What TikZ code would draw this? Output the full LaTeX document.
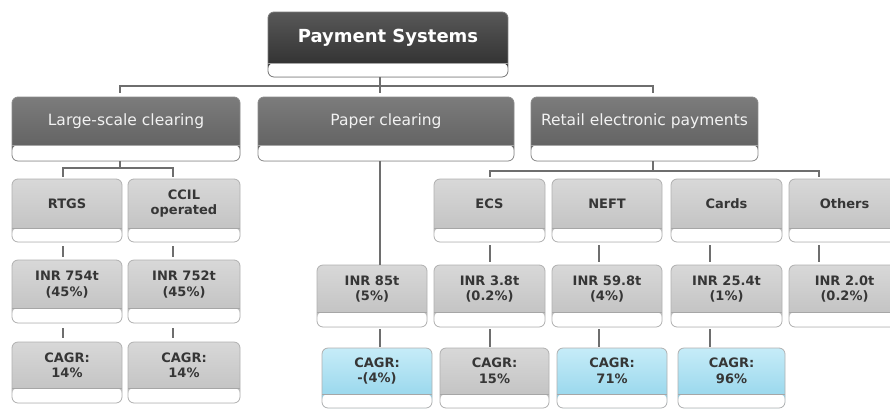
\documentclass[tikz,border=0pt]{standalone}
\usepackage{fontspec}
\setmainfont{DejaVu Sans}
\definecolor{dkA}{HTML}{585858}
\definecolor{dkB}{HTML}{2A2A2A}
\definecolor{dkE}{HTML}{7A7A7A}
\definecolor{mdA}{HTML}{7C7C7C}
\definecolor{mdB}{HTML}{5C5C5C}
\definecolor{mdE}{HTML}{8A8A8A}
\definecolor{lgA}{HTML}{D8D8D8}
\definecolor{lgB}{HTML}{BEBEBE}
\definecolor{lgE}{HTML}{B0B0B0}
\definecolor{blA}{HTML}{C6ECF8}
\definecolor{blB}{HTML}{8FD3EA}
\definecolor{connc}{HTML}{6E6E6E}
\definecolor{txtd}{HTML}{363636}
\newcommand\pbx[8]{%
  \node[#6, minimum width={(#4-#2)*1pt}, minimum height={(#5-#3)*1pt},
        label={[#7]center:{#8}}] (#1) at ({(#2+#4)/2},{(#3+#5)/2}) {};}
\begin{document}
\begin{tikzpicture}[x=1pt,y=-1pt,
  boxstrip/.initial=14pt,
  box/.style={rectangle, rounded corners=6pt, line width=0.8pt, inner sep=0pt,
    path picture={
      \fill[white] (path picture bounding box.south west) rectangle
        ([yshift=\pgfkeysvalueof{/tikz/boxstrip}]path picture bounding box.south east);
      \draw[black!35, line width=0.6pt]
        ([yshift=\pgfkeysvalueof{/tikz/boxstrip}]path picture bounding box.south west) --
        ([yshift=\pgfkeysvalueof{/tikz/boxstrip}]path picture bounding box.south east);}},
  darkbox/.style={box, top color=dkA, bottom color=dkB, draw=dkE, boxstrip=14pt},
  midbox/.style={box, top color=mdA, bottom color=mdB, draw=mdE, boxstrip=16pt},
  graybox/.style={box, top color=lgA, bottom color=lgB, draw=lgE},
  bluebox/.style={box, top color=blA, bottom color=blB, draw=lgE},
  ttop/.style={text=white, font=\bfseries\fontsize{18}{20}\selectfont, yshift=7pt},
  tmid/.style={text=white!95!black, font=\fontsize{15.5}{18}\selectfont, yshift=8pt},
  tlow/.style={text=txtd, align=center, font=\bfseries\fontsize{13}{15.5}\selectfont, yshift=7pt},
  conn/.style={draw=connc, line width=1.5pt}
]
\useasboundingbox (0,0) rectangle (890,410);
\clip (0,0) rectangle (890,410);

% columns and rails
\coordinate (cA) at (63,0);
\coordinate (cB) at (173,0);
\coordinate (cL) at (120,0);
\coordinate (cP) at (380,0);
\coordinate (cR) at (653,0);
\coordinate (cE) at (490,0);
\coordinate (cN) at (599,0);
\coordinate (cC) at (710,0);
\coordinate (cO) at (819,0);
\coordinate (h1) at (0,86);
\coordinate (h2) at (0,168);
\coordinate (h3) at (0,171);

\pbx{top}{268}{12}{508}{77}{darkbox}{ttop}{Payment Systems}
\pbx{lsc}{12}{97}{240}{161}{midbox}{tmid}{Large-scale clearing}
\pbx{pap}{258}{97}{514}{161}{midbox}{tmid}{Paper clearing}
\pbx{rep}{531}{97}{758}{161}{midbox}{tmid}{Retail electronic payments}

\pbx{rtgs}{12}{179}{122}{242}{graybox}{tlow}{RTGS}
\pbx{ccil}{128}{179}{240}{242}{graybox}{tlow}{CCIL\\operated}
\pbx{ecs}{434}{179}{545}{242}{graybox}{tlow}{ECS}
\pbx{neft}{552}{179}{662}{242}{graybox}{tlow}{NEFT}
\pbx{cards}{671}{179}{782}{242}{graybox}{tlow}{Cards}
\pbx{oth}{789}{179}{900}{242}{graybox}{tlow}{Others}

\pbx{iA}{12}{260}{122}{323}{graybox,boxstrip=15pt}{tlow}{INR 754t\\(45\%)}
\pbx{iB}{128}{260}{240}{323}{graybox,boxstrip=15pt}{tlow}{INR 752t\\(45\%)}
\pbx{iP}{317}{265}{427}{327}{graybox,boxstrip=15pt}{tlow}{INR 85t\\(5\%)}
\pbx{iE}{434}{265}{545}{327}{graybox,boxstrip=15pt}{tlow}{INR 3.8t\\(0.2\%)}
\pbx{iN}{552}{265}{662}{327}{graybox,boxstrip=15pt}{tlow}{INR 59.8t\\(4\%)}
\pbx{iC}{671}{265}{782}{327}{graybox,boxstrip=15pt}{tlow}{INR 25.4t\\(1\%)}
\pbx{iO}{789}{265}{900}{327}{graybox,boxstrip=15pt}{tlow}{INR 2.0t\\(0.2\%)}

\pbx{gA}{12}{342}{122}{403}{graybox,boxstrip=15pt}{tlow}{CAGR:\\14\%}
\pbx{gB}{128}{342}{240}{403}{graybox,boxstrip=15pt}{tlow}{CAGR:\\14\%}
\pbx{gP}{322}{348}{432}{408}{bluebox,boxstrip=14pt}{tlow}{CAGR:\\-(4\%)}
\pbx{gE}{440}{348}{549}{408}{graybox,boxstrip=14pt}{tlow}{CAGR:\\15\%}
\pbx{gN}{557}{348}{667}{408}{bluebox,boxstrip=14pt}{tlow}{CAGR:\\71\%}
\pbx{gC}{678}{348}{785}{408}{bluebox,boxstrip=14pt}{tlow}{CAGR:\\96\%}

% top level connectors
\draw[conn] (top.south -| cP) -- (cP |- h1);
\draw[conn] ([yshift=4pt]lsc.north -| cL) |- (cR |- h1) -- ([yshift=4pt]rep.north -| cR);
\draw[conn] (cP |- h1) -- ([yshift=4pt]pap.north -| cP);

% large-scale bracket
\draw[conn] (lsc.south -| cL) -- (cL |- h2);
\draw[conn] ([yshift=2pt]rtgs.north -| cA) |- (cB |- h2) -- ([yshift=2pt]ccil.north -| cB);

% paper
\draw[conn] (pap.south -| cP) -- (iP.north -| cP);

% retail bracket
\draw[conn] (rep.south -| cR) -- (cR |- h3);
\draw[conn] ([yshift=2pt]ecs.north -| cE) |- (cO |- h3) -- ([yshift=2pt]oth.north -| cO);

% ticks row A -> B
\draw[conn] ([yshift=-4pt]rtgs.south -| cA) -- ([yshift=3pt]iA.north -| cA);
\draw[conn] ([yshift=-4pt]ccil.south -| cB) -- ([yshift=3pt]iB.north -| cB);
\draw[conn] ([yshift=-3pt]ecs.south -| cE) -- ([yshift=3pt]iE.north -| cE);
\draw[conn] ([yshift=-3pt]neft.south -| cN) -- ([yshift=3pt]iN.north -| cN);
\draw[conn] ([yshift=-3pt]cards.south -| cC) -- ([yshift=3pt]iC.north -| cC);
\draw[conn] ([yshift=-3pt]oth.south -| cO) -- ([yshift=3pt]iO.north -| cO);

% ticks row B -> C
\draw[conn] ([yshift=-5pt]iA.south -| cA) -- ([yshift=4pt]gA.north -| cA);
\draw[conn] ([yshift=-5pt]iB.south -| cB) -- ([yshift=4pt]gB.north -| cB);
\draw[conn] ([yshift=-2pt]iP.south -| cP) -- ([yshift=1pt]gP.north -| cP);
\draw[conn] ([yshift=-2pt]iE.south -| cE) -- ([yshift=1pt]gE.north -| cE);
\draw[conn] ([yshift=-2pt]iN.south -| cN) -- ([yshift=1pt]gN.north -| cN);
\draw[conn] ([yshift=-2pt]iC.south -| cC) -- ([yshift=1pt]gC.north -| cC);
\end{tikzpicture}
\end{document}
